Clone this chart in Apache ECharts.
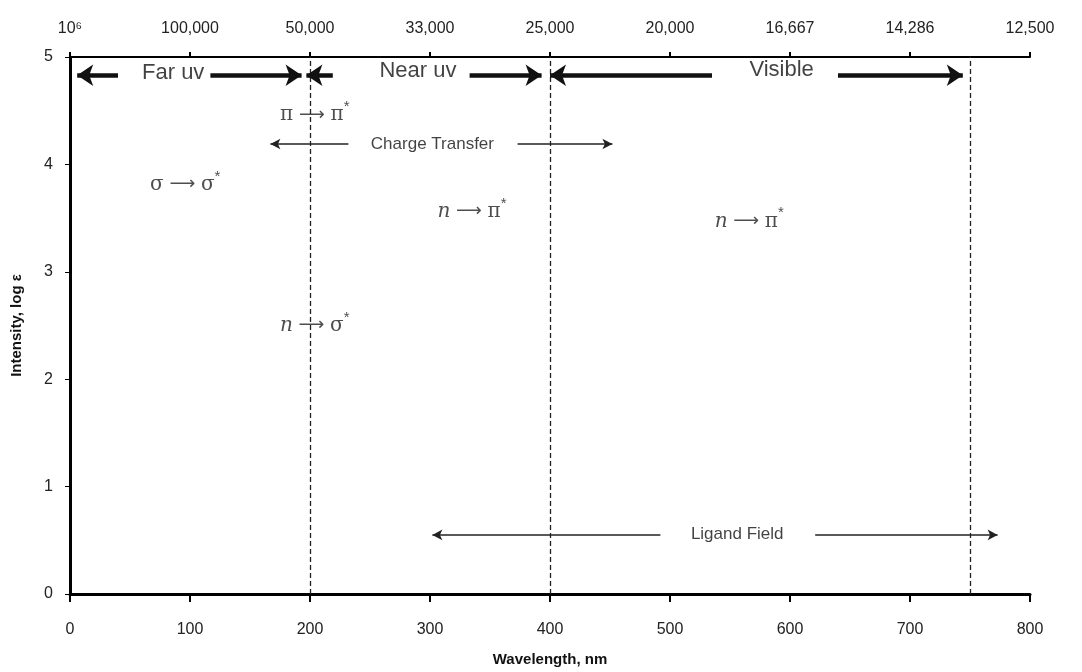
<!DOCTYPE html>
<html>
<head>
<meta charset="utf-8">
<script src="https://cdn.jsdelivr.net/npm/echarts@6/dist/echarts.min.js"></script>
<style>
  html, body { margin: 0; padding: 0; background: #fff; }
  #chart { width: 1082px; height: 672px; }
</style>
</head>
<body>
<div id="chart"></div>
<script>
// bottom axis: wavelength (nm), top axis: wavenumber (cm-1)
var wavelengthTicks = [0, 100, 200, 300, 400, 500, 600, 700, 800]
var wavenumberLabels = ['10\u2076', '100,000', '50,000', '33,000', '25,000', '20,000', '16,667', '14,286', '12,500']
var intensityTicks = [0, 1, 2, 3, 4, 5]

// region borders (nm)
var regionBorders = [200, 400, 750]

// thick region arrows [fromX, toX, y]
var regionArrows = [
  [40, 6, 4.83], [117, 193, 4.83],
  [219, 197, 4.83], [333, 393, 4.83],
  [535, 400, 4.83], [640, 744, 4.83]
]
var regionNames = [[86, 4.85, 'Far uv'], [290, 4.87, 'Near uv'], [593, 4.88, 'Visible']]

// thin arrows [fromX, toX, y]
var bandArrows = [
  [232, 167, 4.19], [373, 452, 4.19],
  [492, 302, 0.55], [621, 773, 0.55]
]
var bandNames = [[302, 4.19, 'Charge Transfer'], [556, 0.56, 'Ligand Field']]

// transitions [x, y, from, to]
var transitions = [
  [204, 4.46, 'π', 'π'],
  [96, 3.81, 'σ', 'σ'],
  [335, 3.56, 'n', 'π'],
  [566, 3.47, 'n', 'π'],
  [204, 2.50, 'n', 'σ']
]

var chart = echarts.init(document.getElementById('chart'))

function arrowLines(list) {
  return list.map(function (a) {
    return [{ coord: [a[0], a[2]] }, { coord: [a[1], a[2]] }]
  })
}

var font = 'Liberation Sans, Arial, sans-serif'

chart.setOption({
  animation: false,
  grid: { left: 70, right: 52, top: 57, bottom: 75 },
  xAxis: [{
    type: 'value',
    position: 'bottom',
    min: 0,
    max: 800,
    interval: 100,
    name: 'Wavelength, nm',
    nameLocation: 'middle',
    nameGap: 58,
    nameTextStyle: { fontFamily: font, fontWeight: 'bold', fontSize: 15, color: '#111' },
    axisLine: { lineStyle: { color: '#000', width: 3 } },
    axisTick: { length: 8, lineStyle: { color: '#000', width: 2 } },
    axisLabel: { margin: 28, fontFamily: font, fontSize: 16, color: '#222' },
    splitLine: { show: false }
  }, {
    type: 'value',
    position: 'top',
    min: 0,
    max: 800,
    interval: 100,
    axisLine: { lineStyle: { color: '#000', width: 2 } },
    axisTick: { length: 5, lineStyle: { color: '#000', width: 2 } },
    axisLabel: {
      margin: 20,
      fontFamily: font,
      fontSize: 16,
      color: '#222',
      formatter: function (v) { return wavenumberLabels[wavelengthTicks.indexOf(v)] }
    },
    splitLine: { show: false }
  }],
  yAxis: {
    type: 'value',
    min: 0,
    max: 5,
    interval: 1,
    name: 'Intensity, log ε',
    nameLocation: 'middle',
    nameGap: 46,
    nameTextStyle: { fontFamily: font, fontWeight: 'bold', fontSize: 15, color: '#111' },
    axisLine: { show: true, lineStyle: { color: '#000', width: 3 } },
    axisTick: { show: true, length: 5, lineStyle: { color: '#000', width: 1 } },
    axisLabel: { margin: 17, fontFamily: font, fontSize: 16, color: '#222' },
    splitLine: { show: false }
  },
  series: [{
    // dashed region borders
    type: 'line',
    data: [],
    markLine: {
      silent: true,
      symbol: 'none',
      label: { show: false },
      lineStyle: { color: '#222', type: [5, 3], width: 1.3 },
      data: regionBorders.map(function (x) { return { xAxis: x } })
    }
  }, {
    type: 'line',
    data: [],
    markLine: {
      silent: true,
      symbol: ['none', 'arrow'],
      symbolSize: [16, 16],
      label: { show: false },
      lineStyle: { color: '#111', type: 'solid', width: 4.5 },
      data: arrowLines(regionArrows)
    }
  }, {
    type: 'line',
    data: [],
    markLine: {
      silent: true,
      symbol: ['none', 'arrow'],
      symbolSize: [8, 10],
      label: { show: false },
      lineStyle: { color: '#222', type: 'solid', width: 1.5 },
      data: arrowLines(bandArrows)
    }
  }, {
    type: 'scatter',
    symbolSize: 0,
    data: regionNames,
    label: {
      show: true,
      position: 'inside',
      formatter: function (p) { return p.data[2] },
      fontFamily: font,
      fontSize: 22,
      color: '#111'
    }
  }, {
    type: 'scatter',
    symbolSize: 0,
    data: bandNames,
    label: {
      show: true,
      position: 'inside',
      formatter: function (p) { return p.data[2] },
      fontFamily: font,
      fontSize: 17,
      color: '#111',
      backgroundColor: '#fff',
      padding: [0, 3]
    }
  }, {
    type: 'scatter',
    symbolSize: 0,
    data: transitions,
    label: {
      show: true,
      position: 'inside',
      formatter: function (p) {
        var a = p.data[2] === 'n' ? '{it|n}' : '{g|' + p.data[2] + '}'
        return a + '{ar| \u27F6 }{g|' + p.data[3] + '}{sup|*}'
      },
      rich: {
        g: { fontFamily: 'DejaVu Serif, serif', fontSize: 20, color: '#222' },
        it: { fontFamily: 'DejaVu Serif, serif', fontStyle: 'italic', fontSize: 20, color: '#222' },
        ar: { fontFamily: 'DejaVu Sans, sans-serif', fontSize: 18, color: '#222' },
        sup: { fontFamily: font, fontSize: 15, color: '#222', verticalAlign: 'top', padding: [0, 0, 16, 0] }
      }
    }
  }]
})
</script>
</body>
</html>
